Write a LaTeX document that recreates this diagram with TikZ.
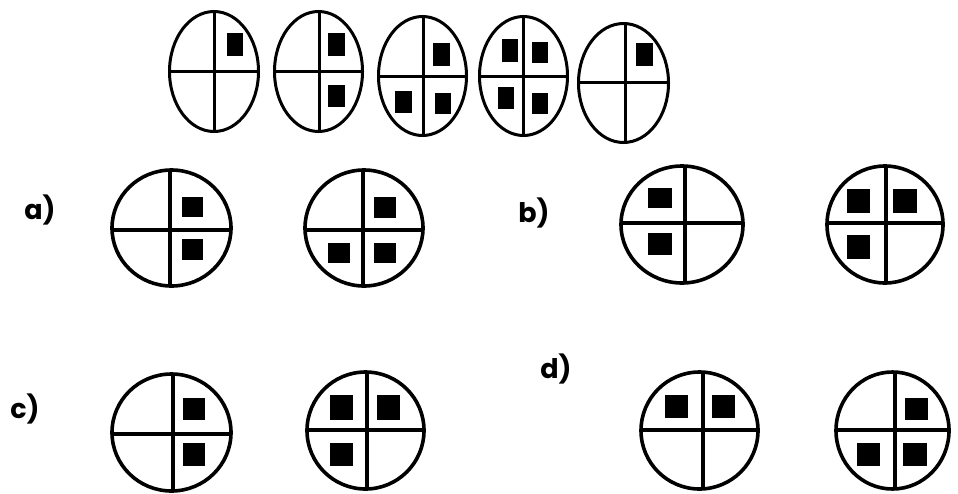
\documentclass[tikz,border=0pt]{standalone}
\usepackage{fontspec}
\setmainfont{Poppins}
\newcommand\qfig[7]{%
  \begin{scope}
    \clip (#1,#2) ellipse [x radius=#3, y radius=#4];
    \draw[line width=#7] (#5,#2-#4-6) -- (#5,#2+#4+6);
    \draw[line width=#7] (#1-#3-6,#6) -- (#1+#3+6,#6);
  \end{scope}
  \draw[line width=#7] (#1,#2) ellipse [x radius=#3, y radius=#4];}
\begin{document}
\begin{tikzpicture}[x=1pt,y=-1pt,
  lbl/.style={font=\fontsize{27}{32}\selectfont\bfseries, inner sep=0pt, anchor=center},
  sq/.style={fill=black}]
\useasboundingbox (0,0) rectangle (958,493);
% top row
\qfig{214}{71.5}{44.5}{60}{214}{71}{3pt}
\fill[sq] (227,33) rectangle (243,56);
\qfig{318.5}{71.5}{44}{60}{319}{71}{3pt}
\fill[sq] (328,33) rectangle (345,56);
\fill[sq] (328,85) rectangle (345,107);
\qfig{422.5}{76}{44}{59.5}{423}{76}{3pt}
\fill[sq] (433,43) rectangle (450,66);
\fill[sq] (395,91) rectangle (412,113);
\fill[sq] (435,93) rectangle (451,114);
\qfig{523.5}{76}{44}{59.5}{523}{76}{3pt}
\fill[sq] (502,39) rectangle (518,62);
\fill[sq] (532,42) rectangle (548,63);
\fill[sq] (498,87) rectangle (514,109);
\fill[sq] (532,93) rectangle (548,114);
\qfig{623.5}{83}{45}{59.5}{625}{82}{3pt}
\fill[sq] (636,43) rectangle (653,66);
% a)
\node[lbl] (la) at (40,210) {a)};
\qfig{171.5}{228}{59.5}{58}{170}{230}{3.6pt}
\fill[sq] (182,197) rectangle (203,217);
\fill[sq] (182,239) rectangle (203,260);
\qfig{364}{228}{59}{58}{363}{230}{3.6pt}
\fill[sq] (374,197) rectangle (396,218);
\fill[sq] (328,243) rectangle (350,263);
\fill[sq] (374,243) rectangle (396,263);
% b)
\node[lbl] (lb) at (534,213) {b)};
\qfig{682}{224.5}{61}{58.5}{685}{223}{3.6pt}
\fill[sq] (648,188) rectangle (672,208);
\fill[sq] (648,233) rectangle (672,255);
\qfig{885}{224.5}{58}{58.5}{886}{223}{3.6pt}
\fill[sq] (847,189) rectangle (870,213);
\fill[sq] (893,189) rectangle (917,213);
\fill[sq] (847,235) rectangle (870,259);
% c)
\node[lbl] (lc) at (25,409) {c)};
\qfig{171.5}{432.5}{59.5}{58.5}{173}{434}{3.6pt}
\fill[sq] (183,398) rectangle (205,420);
\fill[sq] (183,443) rectangle (205,466);
\qfig{365.5}{430.5}{58.5}{58.5}{367}{430}{3.6pt}
\fill[sq] (330,395) rectangle (353,420);
\fill[sq] (377,395) rectangle (400,420);
\fill[sq] (330,443) rectangle (353,466);
% d)
\node[lbl] (ld) at (556,369) {d)};
\qfig{699.5}{430.5}{58.5}{58.5}{703}{430}{3.6pt}
\fill[sq] (665,395) rectangle (688,418);
\fill[sq] (712,395) rectangle (735,418);
\qfig{892.5}{430.5}{56.5}{58.5}{895}{430}{3.6pt}
\fill[sq] (905,398) rectangle (928,420);
\fill[sq] (857,443) rectangle (880,466);
\fill[sq] (903,443) rectangle (927,466);
\end{tikzpicture}
\end{document}
